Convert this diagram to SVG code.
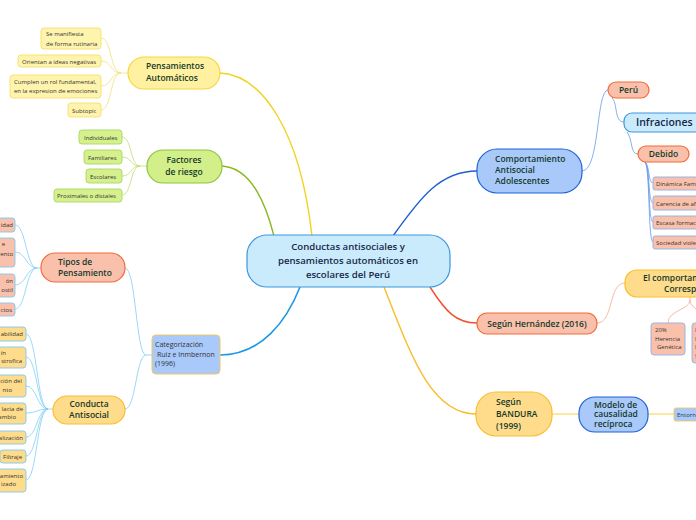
<svg xmlns="http://www.w3.org/2000/svg" width="696" height="520" viewBox="0 0 696 520">
<style>
text{font-family:"Open Sans","Noto Sans","Liberation Sans",sans-serif;}
.t{font-size:8.5px;fill:#15392a;font-weight:600;}
.c{font-size:9.6px;fill:#17284a;font-weight:600;text-anchor:middle;}
.s{font-size:6px;fill:#333;}
.m{text-anchor:middle;}
.e{text-anchor:end;}
.cat{font-size:7px;fill:#333;}
.yel{fill:#fff1a0;stroke:#f5d83e;stroke-width:1.2;}
.yels{fill:#fff4ae;stroke:#f4e06c;stroke-width:0.9;}
.grn{fill:#d2ef8a;stroke:#8cc63f;stroke-width:1.2;}
.grns{fill:#d6f08e;stroke:#a8d860;stroke-width:0.9;}
.sal{fill:#f9c1ab;stroke:#f26b3a;stroke-width:1.2;}
.sals{fill:#f9c1ab;stroke:#7fc8f0;stroke-width:0.9;}
.salb{fill:#f9c1ab;stroke:#8fb0ea;stroke-width:0.9;}
.org{fill:#fedc8c;stroke:#fbbd2e;stroke-width:1.2;}
.orgs{fill:#fedc8c;stroke:#7fc8f0;stroke-width:0.9;}
.blu{fill:#a9c9fa;stroke:#1f63d6;stroke-width:1.2;}
.blus{fill:#a9c9fa;stroke:#f0c860;stroke-width:0.9;}
.lb{fill:#c9ebfb;stroke:#3d95e0;stroke-width:1.2;}
path{fill:none;}
</style>
<g id="connectors">
<path d="M220,73 C262,75 300,130 312,236" stroke="#f2d21e" stroke-width="1.4"/>
<path d="M222,166 C252,168 266,205 274,236" stroke="#88b820" stroke-width="1.4"/>
<path d="M220,355 C262,355 287,320 300,287" stroke="#1e98e6" stroke-width="1.6"/>
<path d="M393,236 C420,198 440,171 477,171" stroke="#1f5fd0" stroke-width="1.4"/>
<path d="M430,287 C446,312 456,323 477,323" stroke="#f05030" stroke-width="1.4"/>
<path d="M384,287 C410,352 430,414 476,414" stroke="#f8be2a" stroke-width="1.4"/>
<g stroke="#f4e07a" stroke-width="0.8">
<path d="M128,73 L121,73 C110,73 112,38 101,38"/>
<path d="M121,73 C110,73 112,61 101,61"/>
<path d="M121,73 C110,73 112,86 101,86"/>
<path d="M121,73 C110,73 112,110 101,110"/>
</g>
<g stroke="#bce070" stroke-width="0.8">
<path d="M147,166 L140,166 C130,166 132,137 122,137"/>
<path d="M140,166 C130,166 132,157 122,157"/>
<path d="M140,166 C130,166 132,176 122,176"/>
<path d="M140,166 C130,166 132,195 122,195"/>
</g>
<g stroke="#80cff5" stroke-width="0.8">
<path d="M152,355 L146,355 C136,355 136,268 125,268"/>
<path d="M146,355 C136,355 136,409 125,409"/>
<path d="M41,268 L37,268 C26,268 26,225 15,225"/>
<path d="M37,268 C26,268 26,252 15,252"/>
<path d="M37,268 C26,268 26,285 15,285"/>
<path d="M37,268 C26,268 26,309 15,309"/>
<path d="M53,409 L48,409 C37,409 37,334 26,334"/>
<path d="M48,409 C37,409 37,357 26,357"/>
<path d="M48,409 C37,409 37,386 26,386"/>
<path d="M48,409 C37,409 37,413 26,413"/>
<path d="M48,409 C37,409 37,437 26,437"/>
<path d="M48,409 C37,409 37,456 26,456"/>
<path d="M48,409 C37,409 37,480 26,480"/>
</g>
<g stroke="#6a9ae8" stroke-width="0.8">
<path d="M582,171 C600,171 596,90 608,90"/>
<path d="M612,98 C618,104 614,122 624,122"/>
<path d="M627,132 C633,140 630,154 638,154"/>
<path d="M645,162 C650,166 648,183 653,183"/>
<path d="M645,162 C650,166 648,203 653,203"/>
<path d="M645,162 C650,166 648,222 653,222"/>
<path d="M645,162 C650,166 648,242 653,242"/>
</g>
<g stroke="#f8a890" stroke-width="0.8">
<path d="M597,323 C614,323 608,283 625,283"/>
<path d="M690,297 L690,300 C690,310 668,310 668,323"/>
<path d="M690,300 C690,310 706,310 706,323"/>
</g>
<g stroke="#f8d040" stroke-width="1">
<path d="M552,414 L579,414"/>
<path d="M648,414 L674,414"/>
</g>
</g>
<g id="central">
<rect class="lb" x="247" y="235" width="203" height="52" rx="20"/>
<text class="c" x="348" y="250">Conductas antisociales y</text>
<text class="c" x="348" y="264">pensamientos automáticos en</text>
<text class="c" x="348" y="278">escolares del Perú</text>
</g>
<g id="pensamientos">
<rect class="yel" x="128" y="57" width="92" height="32" rx="16"/>
<text class="t" x="146" y="69">Pensamientos</text>
<text class="t" x="146" y="81">Automáticos</text>
</g>
<g id="pens-sub1"><rect class="yels" x="41" y="28" width="60" height="21" rx="3"/><text class="s" x="46" y="36">Se manifiesta</text><text class="s" x="46" y="46">de forma rutinaria</text></g>
<g id="pens-sub2"><rect class="yels" x="18" y="55" width="83" height="12" rx="3"/><text class="s" x="22" y="63.5">Orientan a ideas negativas</text></g>
<g id="pens-sub3"><rect class="yels" x="10" y="75" width="91" height="23" rx="3"/><text class="s" x="14" y="84">Cumplen un rol fundamental,</text><text class="s" x="14" y="93">en la expresion de emociones</text></g>
<g id="pens-sub4"><rect class="yels" x="68" y="103" width="33" height="14" rx="3"/><text class="s" x="72" y="112.5">Subtopic</text></g>
<g id="factores">
<rect class="grn" x="147" y="150" width="75" height="33" rx="16"/>
<text class="t m" x="184" y="163">Factores</text>
<text class="t m" x="184" y="175">de riesgo</text>
</g>
<g id="fac-sub1"><rect class="grns" x="79" y="130" width="43" height="14" rx="3"/><text class="s" x="84" y="139.5">Individuales</text></g>
<g id="fac-sub2"><rect class="grns" x="84" y="150" width="38" height="14" rx="3"/><text class="s" x="88" y="159.5">Familiares</text></g>
<g id="fac-sub3"><rect class="grns" x="86" y="169" width="36" height="14" rx="3"/><text class="s" x="90" y="178.5">Escolares</text></g>
<g id="fac-sub4"><rect class="grns" x="54" y="189" width="68" height="13" rx="3"/><text class="s" x="57" y="198">Proximales o distales</text></g>
<g id="tipos">
<rect class="sal" x="41" y="253" width="84" height="29" rx="14"/>
<text class="t" x="58" y="265">Tipos de</text>
<text class="t" x="58" y="276">Pensamiento</text>
</g>
<g id="tip-sub1"><rect class="sals" x="-40" y="218" width="55" height="14" rx="3"/><text class="s e" x="13" y="227">idad</text></g>
<g id="tip-sub2"><rect class="sals" x="-40" y="238" width="55" height="29" rx="3"/><text class="s e" x="5" y="246">e</text><text class="s e" x="13" y="256">ento</text></g>
<g id="tip-sub3"><rect class="sals" x="-40" y="274" width="55" height="23" rx="3"/><text class="s e" x="13" y="283">ón</text><text class="s e" x="13" y="292">ostil</text></g>
<g id="tip-sub4"><rect class="sals" x="-40" y="303" width="55" height="13" rx="3"/><text class="s e" x="12" y="311.5">ctos</text></g>
<g id="conducta">
<rect class="org" x="53" y="396" width="72" height="28" rx="14"/>
<text class="t m" x="89" y="407">Conducta</text>
<text class="t m" x="89" y="418">Antisocial</text>
</g>
<g id="con-sub1"><rect class="orgs" x="-40" y="327" width="66" height="14" rx="3"/><text class="s e" x="23" y="336">abilidad</text></g>
<g id="con-sub2"><rect class="orgs" x="-40" y="347" width="66" height="21" rx="3"/><text class="s e" x="6" y="355">ín</text><text class="s e" x="22" y="363">strofica</text></g>
<g id="con-sub3"><rect class="orgs" x="-40" y="375" width="66" height="22" rx="3"/><text class="s e" x="22" y="383">ción del</text><text class="s e" x="12" y="392">nto</text></g>
<g id="con-sub4"><rect class="orgs" x="-40" y="403" width="66" height="21" rx="3"/><text class="s e" x="23" y="411">lacia de</text><text class="s e" x="16" y="419">ambio</text></g>
<g id="con-sub5"><rect class="orgs" x="-40" y="431" width="66" height="13" rx="3"/><text class="s e" x="23" y="439.5">alización</text></g>
<g id="con-sub6"><rect class="orgs" x="0" y="450" width="26" height="13" rx="3"/><text class="s e" x="22" y="458.5">Filtraje</text></g>
<g id="con-sub7"><rect class="orgs" x="-40" y="469" width="66" height="23" rx="3"/><text class="s e" x="23" y="478">amiento</text><text class="s e" x="16" y="486">izado</text></g>
<g id="categorizacion">
<rect x="152" y="335" width="68" height="39" rx="4" fill="#a9c9fa" stroke="#f0c860" stroke-width="1"/>
<text class="cat" x="155" y="347">Categorización</text>
<text class="cat" x="157" y="356.5">Ruiz e Inmbernon</text>
<text class="cat" x="155" y="366">(1996)</text>
</g>
<g id="comportamiento">
<rect class="blu" x="477" y="149" width="105" height="44" rx="20"/>
<text class="t" x="495" y="162">Comportamiento</text>
<text class="t" x="495" y="173">Antisocial</text>
<text class="t" x="495" y="184">Adolescentes</text>
</g>
<g id="peru"><rect class="sal" x="608" y="82" width="41" height="16" rx="8"/><text class="t m" x="628.5" y="93">Perú</text></g>
<g id="infraciones"><rect class="lb" x="624" y="113" width="82" height="19" rx="8"/><text x="636" y="126" style="font-size:10.5px;fill:#17284a;font-weight:600">Infraciones</text></g>
<g id="debido"><rect class="sal" x="638" y="146" width="51" height="16" rx="8"/><text class="t m" x="663.5" y="157">Debido</text></g>
<g id="deb-sub1"><rect class="salb" x="653" y="177" width="60" height="13" rx="2"/><text class="s" x="656" y="186">Dinámica Familiar</text></g>
<g id="deb-sub2"><rect class="salb" x="653" y="196" width="60" height="14" rx="2"/><text class="s" x="656" y="205.5">Carencia de afecto</text></g>
<g id="deb-sub3"><rect class="salb" x="653" y="216" width="60" height="13" rx="2"/><text class="s" x="656" y="225">Escasa formación</text></g>
<g id="deb-sub4"><rect class="salb" x="653" y="236" width="60" height="13" rx="2"/><text class="s" x="656" y="245">Sociedad violenta</text></g>
<g id="hernandez"><rect class="sal" x="477" y="313" width="120" height="21" rx="10"/><text class="t m" x="537" y="327">Según Hernández (2016)</text></g>
<g id="comportamiento2">
<rect class="org" x="625" y="270" width="100" height="27" rx="12"/>
<text class="t" x="643" y="281">El comportamiento antisocial</text>
<text class="t" x="664" y="292">Corresponde a:</text>
</g>
<g id="herencia"><rect class="salb" x="651" y="323" width="34" height="32" rx="3"/><text class="s" x="655" y="332">20%</text><text class="s" x="655" y="340.5">Herencia</text><text class="s" x="657" y="349">Genética</text></g>
<g id="ambiente"><rect class="salb" x="692" y="323" width="30" height="40" rx="3"/><text class="s" x="695" y="332">80%</text><text class="s" x="695" y="340.5">Influencia</text><text class="s" x="695" y="349">Del Medio</text><text class="s" x="695" y="358">Social</text></g>
<g id="bandura">
<rect class="org" x="476" y="392" width="76" height="44" rx="20"/>
<text class="t" x="496" y="405">Según</text>
<text class="t" x="496" y="417">BANDURA</text>
<text class="t" x="496" y="429">(1999)</text>
</g>
<g id="modelo">
<rect class="blu" x="579" y="397" width="69" height="35" rx="16"/>
<text class="t" x="594" y="407.5">Modelo de</text>
<text class="t" x="594" y="417">causalidad</text>
<text class="t" x="594" y="426.5">recíproca</text>
</g>
<g id="entorno"><rect class="blus" x="674" y="408" width="40" height="13" rx="2"/><text class="s" x="677" y="417">Entorno</text></g>
</svg>
